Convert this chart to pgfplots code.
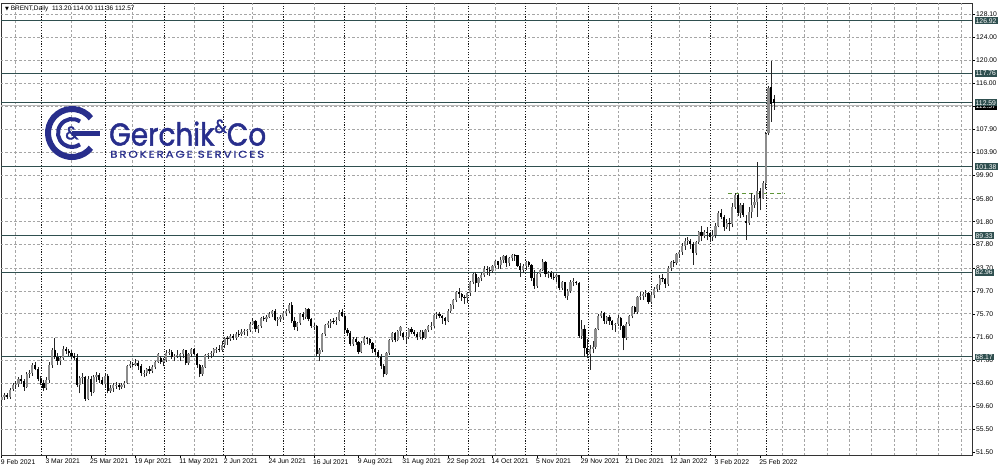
\documentclass[border=0pt]{standalone}
\usepackage{fontspec}
\setmainfont{Liberation Sans}
\newfontfamily\symfont{DejaVu Sans}
\newfontfamily\logofont{Poppins}[FakeBold=1.6]
\newfontfamily\logofontsub{Poppins}[FakeBold=0.8, LetterSpace=15]
\usepackage{pgfplots}
\pgfplotsset{compat=1.18}
\usepackage{pgfplotstable}
\definecolor{lvl}{RGB}{47,79,79}
\definecolor{navy}{RGB}{40,46,140}
\definecolor{gridc}{RGB}{165,165,165}
\definecolor{grn}{RGB}{95,150,55}

\pgfplotstableread{
i o h l c
0 60.6 61.6 60.3 61.1
1 61.1 61.8 60.7 61.5
2 61.5 61.9 60.8 61.1
3 61.1 62.8 60.9 62.4
4 62.5 63.7 62.2 63.3
5 63.3 64.0 62.6 63.4
6 63.4 64.6 63.0 64.3
7 64.3 65.0 63.5 63.9
8 63.9 64.3 62.3 62.9
9 62.9 65.6 62.7 65.2
10 65.2 65.8 64.5 65.4
11 65.4 67.1 64.9 66.8
12 66.8 67.3 65.8 66.1
13 66.1 66.4 63.9 64.4
14 64.4 64.8 63.2 63.7
15 63.7 64.1 62.2 62.7
16 62.7 64.6 62.4 64.1
17 64.1 67.2 63.6 66.7
18 66.7 69.7 66.3 69.4
19 69.4 71.4 67.8 68.2
20 68.2 68.9 66.8 67.5
21 67.5 68.3 66.7 67.9
22 67.9 70.0 67.6 69.6
23 69.6 69.9 68.7 69.2
24 69.2 69.6 68.3 68.9
25 68.9 69.3 67.8 68.4
26 68.4 68.9 67.6 68.0
27 68.0 68.6 62.9 63.3
28 63.3 64.8 61.8 64.5
29 64.5 65.3 63.5 64.6
30 64.6 64.9 60.5 60.8
31 60.8 64.8 60.6 64.4
32 64.4 64.9 61.3 62.0
33 62.0 65.0 61.8 64.6
34 64.6 65.5 63.8 65.0
35 65.0 65.3 63.7 64.1
36 64.1 64.7 63.2 63.5
37 63.5 65.3 62.9 64.9
38 64.9 65.1 61.8 62.2
39 62.2 63.2 61.9 62.7
40 62.7 63.6 62.1 63.2
41 63.2 63.8 62.6 63.3
42 63.2 63.6 62.4 63.0
43 63.0 63.7 62.6 63.3
44 63.3 64.0 62.8 63.7
45 63.7 66.8 63.5 66.6
46 66.6 67.4 66.3 66.9
47 66.9 67.3 66.4 66.8
48 66.8 67.8 66.5 67.1
49 67.1 67.5 65.9 66.6
50 66.6 66.9 64.9 65.3
51 65.3 65.8 64.6 65.4
52 65.4 66.3 64.9 66.1
53 66.1 66.5 65.2 65.7
54 65.7 66.7 65.3 66.4
55 66.4 67.5 66.0 67.3
56 67.3 68.9 67.1 68.6
57 68.0 68.3 66.9 67.3
58 67.3 67.9 66.5 67.6
59 67.6 69.3 67.3 68.9
60 68.9 69.6 68.5 69.0
61 69.0 69.4 67.8 68.1
62 68.1 68.7 67.4 68.3
63 68.3 69.4 68.0 68.5
64 68.3 68.9 67.4 68.6
65 68.6 69.6 67.9 69.3
66 69.3 69.4 66.8 67.1
67 67.1 68.9 66.8 68.7
68 68.7 69.7 68.1 69.5
69 69.5 69.8 68.5 68.7
70 68.7 68.9 66.3 66.7
71 66.7 67.0 64.6 65.1
72 65.1 66.8 64.9 66.4
73 66.4 68.7 66.2 68.5
74 68.5 68.9 67.8 68.7
75 68.7 69.2 67.9 68.9
76 68.9 69.7 68.4 69.5
77 69.5 69.9 68.9 69.6
78 69.6 70.2 69.0 69.3
79 69.3 71.0 69.1 70.3
80 70.3 71.6 69.8 71.4
81 71.4 71.8 70.3 71.3
82 71.3 72.1 71.0 71.9
83 71.9 72.2 71.1 71.5
84 71.5 72.5 71.2 72.2
85 72.2 72.8 71.7 72.0
86 72.2 73.0 71.8 72.5
87 72.5 73.0 72.0 72.7
88 72.7 73.1 71.9 72.9
89 72.9 74.2 72.6 74.0
90 74.0 74.9 73.7 74.4
91 74.4 74.6 72.6 73.1
92 73.1 73.8 72.3 73.5
93 73.5 75.2 73.2 74.9
94 74.9 75.4 74.4 74.8
95 74.8 75.5 74.3 75.2
96 75.2 76.0 74.9 75.6
97 75.6 76.4 75.1 76.2
98 76.2 76.6 74.4 74.7
99 74.7 75.1 73.6 74.8
100 74.8 75.5 74.3 75.1
101 75.1 76.2 74.8 75.8
102 75.8 76.5 75.4 76.2
103 76.2 77.6 75.9 77.2
104 77.2 77.8 74.1 74.5
105 74.5 75.1 72.9 73.4
106 73.4 74.3 72.7 74.1
107 74.1 75.8 73.8 75.6
108 75.6 76.0 74.6 75.2
109 75.2 76.8 74.8 76.5
110 76.5 76.7 74.4 74.8
111 74.8 75.0 73.2 73.5
112 73.5 74.1 72.9 73.6
113 73.6 73.8 68.4 68.6
114 68.6 69.7 67.4 69.4
115 69.4 72.4 69.1 72.2
116 72.2 74.0 71.8 73.8
117 73.8 74.5 73.3 74.1
118 74.1 74.8 73.2 74.5
119 74.5 75.0 73.9 74.3
120 74.5 75.2 73.8 74.7
121 74.7 76.3 74.4 76.1
122 76.1 76.5 75.2 75.4
123 75.4 75.6 72.6 72.9
124 72.9 73.3 71.9 72.4
125 72.4 72.7 70.1 70.4
126 70.4 71.7 70.0 71.3
127 71.3 71.6 70.3 70.7
128 70.7 70.9 68.6 69.0
129 69.0 70.9 68.8 70.6
130 70.6 71.8 70.3 71.4
131 71.4 71.6 70.5 71.3
132 71.3 71.4 70.2 70.6
133 70.6 70.8 68.9 69.5
134 69.5 69.8 68.5 69.0
135 69.0 69.4 67.9 68.2
136 68.2 68.6 66.1 66.5
137 66.5 66.9 64.6 65.2
138 65.2 69.0 65.0 68.8
139 68.8 71.3 68.5 71.1
140 71.1 72.5 70.7 72.3
141 72.3 72.6 70.7 71.1
142 71.1 72.9 70.9 72.7
143 72.7 73.6 71.9 73.4
144 72.3 72.6 71.2 71.6
145 71.6 72.3 70.6 71.8
146 71.6 73.2 71.3 73.0
147 73.0 73.4 72.2 72.6
148 72.6 72.9 71.8 72.2
149 72.2 72.6 71.1 71.7
150 71.7 72.8 71.3 72.6
151 72.6 72.8 71.1 71.5
152 71.5 73.1 71.3 72.9
153 72.9 73.8 72.6 73.5
154 73.5 74.2 72.9 73.6
155 73.6 75.6 73.3 75.5
156 75.5 76.0 74.8 75.7
157 75.7 76.0 74.9 75.3
158 75.3 75.5 73.9 74.9
159 74.9 75.2 73.8 74.4
160 74.4 76.5 74.2 76.2
161 76.2 77.5 75.9 77.3
162 77.3 78.3 76.6 78.1
163 78.1 79.7 77.8 79.5
164 79.5 80.2 78.5 79.1
165 79.1 79.4 77.9 78.6
166 78.6 79.0 77.5 78.5
167 78.5 79.5 77.6 79.3
168 79.3 81.5 78.9 81.3
169 81.3 82.9 80.9 82.6
170 82.6 83.0 79.5 81.1
171 81.1 82.2 80.4 81.9
172 81.9 82.8 81.4 82.4
173 82.4 84.0 82.1 83.6
174 83.6 84.0 82.5 83.4
175 83.4 83.8 82.3 83.2
176 83.2 84.3 82.9 84.0
177 84.0 85.1 83.7 84.9
178 84.9 85.0 83.6 84.3
179 84.3 85.6 83.6 85.1
180 85.1 86.0 84.5 85.8
181 85.8 86.0 83.9 84.6
182 84.6 85.7 84.1 85.5
183 85.5 86.2 84.9 86.0
184 86.0 86.2 85.0 85.9
185 85.9 86.0 83.9 84.0
186 84.0 84.6 82.2 83.4
187 83.4 84.4 82.8 84.0
188 84.0 85.0 83.4 84.7
189 84.7 85.0 83.8 84.2
190 84.2 84.4 81.4 82.0
191 82.0 83.3 80.1 80.5
192 80.5 82.9 80.3 82.7
193 82.7 83.6 82.1 83.4
194 83.4 85.2 83.1 84.8
195 84.8 85.0 82.1 82.6
196 82.6 83.2 81.9 82.9
197 82.9 83.1 81.8 82.2
198 82.2 82.8 81.6 82.1
199 82.1 82.7 81.3 82.4
200 82.4 82.5 79.8 80.3
201 80.3 81.4 79.9 81.2
202 81.2 81.3 78.4 78.9
203 78.9 80.1 78.2 79.7
204 79.7 81.6 79.4 81.3
205 81.3 81.9 80.5 81.5
206 81.3 81.5 80.8 81.1
207 81.1 81.3 71.5 71.9
208 71.9 74.6 71.3 73.0
209 73.0 73.8 68.2 69.8
210 69.8 71.3 67.9 68.6
211 68.6 70.3 65.9 69.6
212 69.6 71.0 68.8 69.9
213 69.9 73.3 69.5 73.1
214 73.1 75.6 72.8 75.4
215 75.4 76.2 74.9 75.8
216 75.8 76.0 74.0 74.4
217 74.4 75.4 73.9 75.2
218 75.2 75.5 73.8 74.4
219 74.4 74.7 72.9 73.7
220 73.7 74.1 72.6 73.9
221 73.9 75.5 73.6 75.0
222 75.0 75.2 72.9 73.5
223 73.5 73.7 69.3 71.5
224 71.5 74.2 71.1 74.0
225 74.0 75.5 73.6 75.3
226 75.3 77.0 74.9 76.9
227 76.9 77.1 75.7 76.1
228 76.1 78.8 75.6 78.6
229 78.6 79.5 78.2 78.9
230 78.9 79.6 78.1 79.2
231 79.2 79.8 78.6 79.3
232 79.3 79.5 77.5 77.8
233 77.8 79.3 77.4 79.0
234 79.0 80.4 78.4 80.0
235 80.0 81.0 79.5 80.8
236 80.8 82.4 79.9 82.0
237 82.0 82.6 81.2 81.8
238 81.8 82.0 80.3 80.9
239 80.9 84.0 80.6 83.7
240 83.7 85.0 83.2 84.7
241 84.7 85.1 83.9 84.5
242 84.5 86.3 84.2 86.1
243 86.1 86.8 85.5 86.5
244 86.5 88.0 86.0 87.5
245 87.5 89.0 86.9 88.4
246 88.4 89.2 87.8 88.6
247 88.4 88.8 87.0 87.9
248 87.9 88.2 84.3 86.3
249 86.3 88.4 85.9 88.2
250 88.2 90.1 87.9 90.0
251 90.0 91.0 88.4 89.3
252 89.3 90.4 88.9 90.0
253 90.0 90.8 88.6 89.8
254 89.8 90.0 88.2 89.2
255 89.2 90.3 88.5 89.5
256 89.5 91.5 88.9 91.1
257 91.1 93.6 90.8 93.3
258 93.3 94.0 92.2 92.7
259 92.7 93.0 90.2 90.8
260 90.8 92.2 90.5 91.6
261 91.6 92.5 90.2 91.4
262 91.4 95.0 90.8 94.4
263 94.4 96.8 94.1 96.5
264 96.5 96.6 92.8 93.3
265 93.3 95.1 92.5 94.8
266 94.8 95.0 92.6 93.0
267 92.0 93.0 88.6 91.5
268 91.5 94.3 91.2 93.5
269 93.5 96.8 92.4 94.8
270 94.8 96.4 94.2 95.2
271 95.2 102.3 92.7 97.2
272 97.2 97.7 93.8 96.0
273 96.0 98.9 95.8 98.6
274 98.5 107.5 97.6 107.2
275 107.3 115.6 106.9 115.1
276 115.3 119.8 109.3 112.3
277 113.20 114.00 111.36 112.57
}\bars

\begin{document}
\begin{tikzpicture}
\useasboundingbox (-1pt,-12pt) rectangle (999pt,455pt);
\begin{axis}[
  scale only axis, width=971pt, height=452pt,
  xmin=-0.25, xmax=348, ymin=51.03, ymax=130.02,
  clip mode=individual,
  axis line style={black!80, line width=0.7pt},
  xtick={0,16,...,272},
  xticklabels={9 Feb 2021,3 Mar 2021,25 Mar 2021,19 Apr 2021,11 May 2021,2 Jun 2021,24 Jun 2021,16 Jul 2021,9 Aug 2021,31 Aug 2021,22 Sep 2021,14 Oct 2021,5 Nov 2021,29 Nov 2021,21 Dec 2021,12 Jan 2022,3 Feb 2022,25 Feb 2022},
  ytick={51.5,55.5,59.6,63.6,67.6,71.6,75.7,79.7,83.7,87.8,91.8,95.8,99.9,103.9,107.9,111.9,116.0,120.0,124.0,128.1},
  xtick pos=bottom, ytick pos=right, yticklabel pos=right,
  tick align=outside, major tick length=3pt,
  tick style={black, line width=0.5pt},
  tick label style={font=\fontsize{6.8}{7}\selectfont},
  x tick label style={anchor=north west, inner sep=0pt, xshift=-1pt, yshift=-1pt},
  y tick label style={anchor=west, inner sep=0pt, xshift=1pt},
  yticklabel={\pgfmathprintnumber[fixed,fixed zerofill,precision=2,assume math mode=true]{\tick}},
]
% horizontal light grid
\pgfplotsinvokeforeach{55.5,59.6,63.6,67.6,71.6,75.7,79.7,83.7,87.8,91.8,95.8,99.9,103.9,107.9,111.9,116.0,120.0,124.0,128.1}{
  \addplot[gridc, dash pattern=on 2.5pt off 2pt, line width=0.7pt, forget plot] coordinates {(-0.25,#1) (348,#1)};
}
% vertical light grid
\pgfplotsinvokeforeach{5,25,47,69,90,112,134,155,177,199,221,243,264,280,288,296,304,312,320,328,336,344}{
  \addplot[gridc, dash pattern=on 2.5pt off 2pt, line width=0.7pt, forget plot] coordinates {(#1,51.03) (#1,130.02)};
}
% month separators
\pgfplotsinvokeforeach{14.3,37.3,58.5,79.6,101.1,123,145.3,167.5,187.9,210.5,233.1,254.3,274.4}{
  \addplot[black!90, dash pattern=on 1.2pt off 1.5pt, line width=0.9pt, forget plot] coordinates {(#1,51.03) (#1,130.02)};
}
% bid line
\addplot[gray!55, line width=0.6pt, yshift=-2.5pt, forget plot] coordinates {(-0.25,112.57) (348,112.57)};
% levels
\pgfplotsinvokeforeach{126.92,117.76,112.59,101.38,89.33,82.96,68.17}{
  \addplot[lvl, line width=1.1pt, forget plot] coordinates {(-0.25,#1) (348,#1)};
}
% green dashed
\addplot[grn, dash pattern=on 4pt off 3pt, line width=0.8pt, forget plot] coordinates {(260.4,96.75) (280.5,96.75)};
% wicks: segment from low to high
\addplot[black!85, line width=0.6pt, forget plot, mark=none,
  quiver={u=0, v={\thisrow{h}-\thisrow{l}}}]
  table[x=i, y=l] {\bars};
% all bodies (gray): from open to close
\addplot[black!45, line width=2.2pt, forget plot, mark=none,
  quiver={u=0, v={\thisrow{c}-\thisrow{o}}}]
  table[x=i, y=o] {\bars};
% falling bodies (black) on top; zero length for rising bars
\addplot[black, line width=2.2pt, forget plot, mark=none,
  quiver={u=0, v={min(\thisrow{c}-\thisrow{o},0)}}]
  table[x=i, y=o] {\bars};
% price boxes
\node[fill=black, text=white, inner sep=1pt, anchor=west, font=\fontsize{6.8}{7}\selectfont, xshift=2.5pt, yshift=-3.5pt] at (axis cs:348,112.57) {112.57};
\pgfplotsinvokeforeach{126.92,117.76,112.59,101.38,89.33,82.96,68.17}{
  \node[fill=lvl, text=white, inner sep=1pt, anchor=west, font=\fontsize{6.8}{7}\selectfont, xshift=2.5pt] at (axis cs:348,#1) {#1};
}
% header
\node[anchor=north west, inner sep=0pt, font=\fontsize{6.5}{7}\selectfont, xshift=4pt, yshift=-2.5pt] at (rel axis cs:0,1) {{\symfont\fontsize{5}{5}\selectfont ▼} BRENT,Daily\ \ 113.20 114.00 111.36 112.57};
\end{axis}
% logo
\begin{scope}[navy]
\draw[line width=6pt] (71pt,322pt) ++(38:24pt) arc (38:322:24pt);
\draw[line width=4pt] (71pt,322pt) ++(55:14pt) arc (55:305:14pt);
\fill (71pt,319.5pt) rectangle (99pt,324.5pt);
\node at (71pt,322pt) {\logofont\fontsize{18}{18}\selectfont\&};
\node[anchor=south west, inner sep=0pt] at (108pt,309pt) {\resizebox{157pt}{26pt}{\logofont Gerchik\raisebox{0.4em}{\fontsize{6}{6}\selectfont\&}Co}};
\node[anchor=south west, inner sep=0pt] at (109pt,297pt) {\resizebox{154pt}{7pt}{\logofontsub BROKERAGE SERVICES}};
\end{scope}
\end{tikzpicture}
\end{document}
